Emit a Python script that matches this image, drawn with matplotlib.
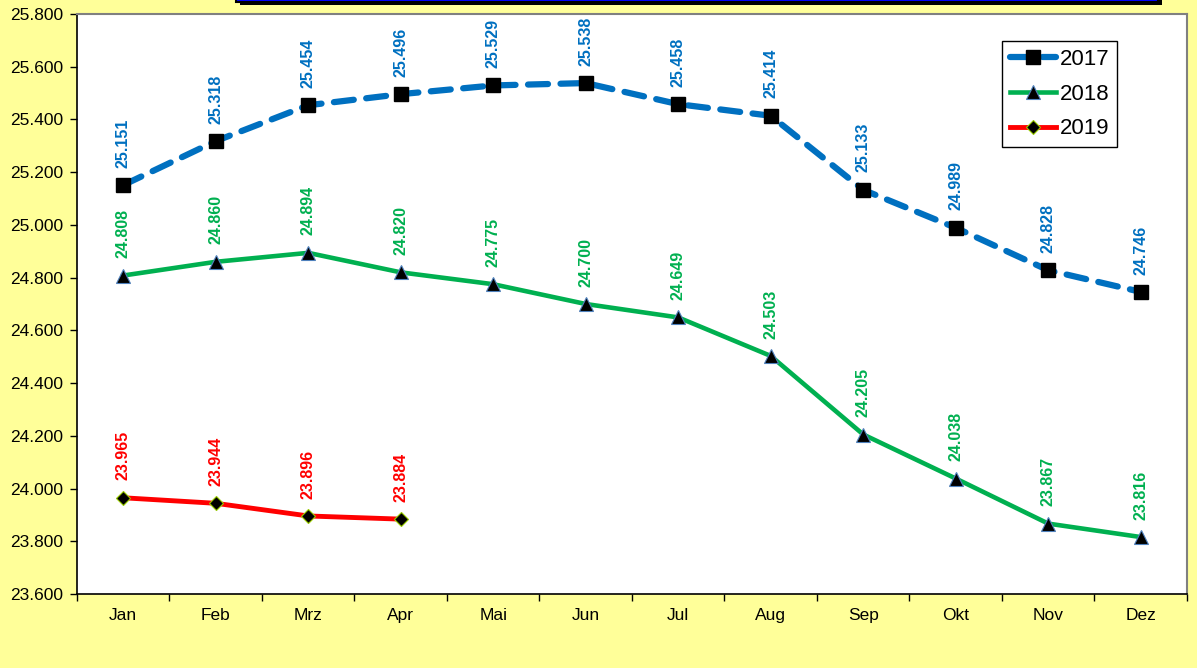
import matplotlib

matplotlib.use("Agg")
import matplotlib.pyplot as plt
from matplotlib.patches import Rectangle
from matplotlib.ticker import FixedLocator, FuncFormatter

months = ["Jan", "Feb", "Mrz", "Apr", "Mai", "Jun", "Jul", "Aug", "Sep", "Okt", "Nov", "Dez"]
values_2017 = [25151, 25318, 25454, 25496, 25529, 25538, 25458, 25414, 25133, 24989, 24828, 24746]
values_2018 = [24808, 24860, 24894, 24820, 24775, 24700, 24649, 24503, 24205, 24038, 23867, 23816]
values_2019 = [23965, 23944, 23896, 23884]
y_ticks = [23600, 23800, 24000, 24200, 24400, 24600, 24800, 25000, 25200, 25400, 25600, 25800]

BG = "#FFFF99"
BLUE = "#0070C0"
GREEN = "#00B050"
RED = "#FF0000"

plt.rcParams["font.family"] = ["Liberation Sans", "DejaVu Sans"]


def fmt_thousands(v):
    return f"{int(round(v)):,}".replace(",", ".")


fig = plt.figure(figsize=(11.97, 6.68), dpi=100, facecolor=BG)
ax = fig.add_axes([77 / 1197, 74 / 668, 1110 / 1197, 580 / 668])
ax.set_facecolor("white")

# title box, cut off at the top edge of the image
fig.patches.append(Rectangle((240 / 1197, 1 - 5 / 668), 922 / 1197, 0.05, transform=fig.transFigure,
                             facecolor="black", edgecolor="none", zorder=1))
fig.patches.append(Rectangle((236 / 1197, 1 - 2 / 668), 922 / 1197, 0.05, transform=fig.transFigure,
                             facecolor="#0000FF", edgecolor="black", linewidth=1.5, zorder=2))

x17 = list(range(len(values_2017)))
x18 = list(range(len(values_2018)))
x19 = list(range(len(values_2019)))

(l17,) = ax.plot(x17, values_2017, color=BLUE, linewidth=4.5, dashes=(3.2, 2.0),
                 dash_capstyle="round", marker="s", markersize=9.5, markerfacecolor="black",
                 markeredgecolor="black", label="2017", zorder=3)
(l18,) = ax.plot(x18, values_2018, color=GREEN, linewidth=3.3, marker="^", markersize=10,
                 markerfacecolor="black", markeredgecolor="#4F81BD", markeredgewidth=0.8,
                 label="2018", zorder=3)
(l19,) = ax.plot(x19, values_2019, color=RED, linewidth=3.5, marker="D", markersize=7.5,
                 markerfacecolor="black", markeredgecolor="#99CC00", markeredgewidth=0.8,
                 label="2019", zorder=4)

for xs, ys, col in [(x17, values_2017, BLUE), (x18, values_2018, GREEN), (x19, values_2019, RED)]:
    for x, y in zip(xs, ys):
        ax.annotate(fmt_thousands(y), (x, y), xytext=(0, 12.5), textcoords="offset points",
                    rotation=90, ha="center", va="bottom", color=col, fontsize=11.5,
                    fontweight="bold", zorder=5)

ax.set_xlim(-0.5, len(months) - 0.5)
ax.set_ylim(23600, 25800)
ax.set_xticks(range(len(months)))
ax.set_xticklabels(months)
ax.xaxis.set_minor_locator(FixedLocator([i - 0.5 for i in range(len(months) + 1)]))
ax.tick_params(axis="x", which="major", length=0, pad=10, labelsize=12.5)
ax.tick_params(axis="x", which="minor", length=5, width=1, direction="out")
ax.set_yticks(y_ticks)
ax.yaxis.set_major_formatter(FuncFormatter(lambda v, p: fmt_thousands(v)))
ax.tick_params(axis="y", length=5, width=1, direction="out", labelsize=12.5, pad=5)

for side in ["left", "bottom"]:
    ax.spines[side].set_color("black")
    ax.spines[side].set_linewidth(1.2)
for side in ["top", "right"]:
    ax.spines[side].set_color("#808080")
    ax.spines[side].set_linewidth(1.5)

leg = ax.legend(handles=[l17, l18, l19], loc="upper left", bbox_to_anchor=(925 / 1110, 1 - 27 / 580),
                fontsize=16, frameon=True, fancybox=False, edgecolor="black", framealpha=1,
                handlelength=2.1, handletextpad=0.15, labelspacing=0.62, borderpad=0.35,
                borderaxespad=0)
leg.get_frame().set_linewidth(1.0)

fig.savefig("out.png", dpi=100, facecolor=BG)
